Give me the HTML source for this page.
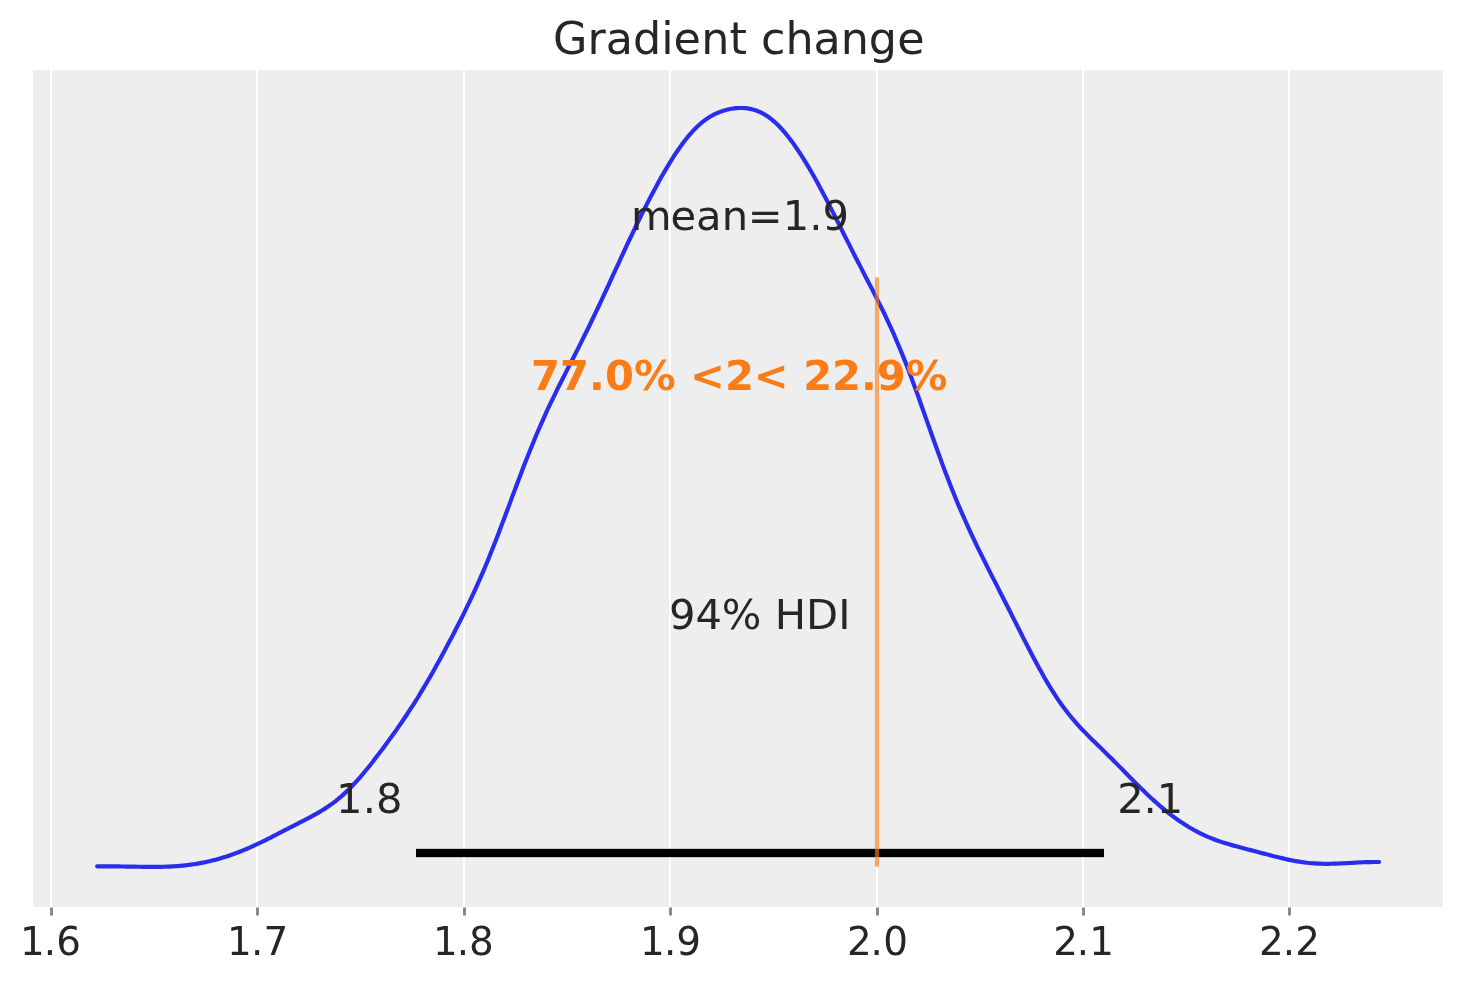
<!DOCTYPE html>
<html lang="en">
<head>
<meta charset="utf-8">
<title>Gradient change</title>
<style>
html,body{margin:0;padding:0;background:#ffffff;}
body{width:1463px;height:983px;overflow:hidden;}
svg{display:block;}
text{font-family:'DejaVu Sans','Liberation Sans',sans-serif;fill:#262626;white-space:pre;}
</style>
</head>
<body>
<svg width="1463" height="983" viewBox="0 0 1463 983">
<rect x="0" y="0" width="1463" height="983" fill="#ffffff"/>
<rect x="33" y="70" width="1410" height="837" fill="#eeeeee"/>
<g>
<rect x="50" y="70" width="2" height="837" fill="#ffffff"/>
<rect x="256" y="70" width="2" height="837" fill="#ffffff"/>
<rect x="463" y="70" width="2" height="837" fill="#ffffff"/>
<rect x="669" y="70" width="2" height="837" fill="#ffffff"/>
<rect x="876" y="70" width="2" height="837" fill="#ffffff"/>
<rect x="1082" y="70" width="2" height="837" fill="#ffffff"/>
<rect x="1288" y="70" width="2" height="837" fill="#ffffff"/>
</g>
<g>
<rect x="50.11" y="907.5" width="2.78" height="8" fill="#808080"/>
<rect x="256.11" y="907.5" width="2.78" height="8" fill="#808080"/>
<rect x="463.11" y="907.5" width="2.78" height="8" fill="#808080"/>
<rect x="669.11" y="907.5" width="2.78" height="8" fill="#808080"/>
<rect x="876.11" y="907.5" width="2.78" height="8" fill="#808080"/>
<rect x="1082.11" y="907.5" width="2.78" height="8" fill="#808080"/>
<rect x="1288.11" y="907.5" width="2.78" height="8" fill="#808080"/>
</g>
<path d="M97.1,866.30 L99.8,866.31 L102.5,866.32 L105.1,866.33 L107.8,866.35 L110.5,866.36 L113.2,866.38 L115.8,866.41 L118.5,866.44 L121.2,866.47 L123.9,866.51 L126.5,866.56 L129.2,866.60 L131.9,866.65 L134.6,866.69 L137.2,866.74 L139.9,866.78 L142.6,866.82 L145.3,866.85 L148.0,866.88 L150.6,866.89 L153.3,866.89 L156.0,866.88 L158.7,866.86 L161.3,866.81 L164.0,866.75 L166.7,866.66 L169.4,866.55 L172.0,866.42 L174.7,866.26 L177.4,866.07 L180.1,865.85 L182.7,865.61 L185.4,865.33 L188.1,865.01 L190.8,864.66 L193.5,864.28 L196.1,863.86 L198.8,863.41 L201.5,862.91 L204.2,862.39 L206.8,861.82 L209.5,861.21 L212.2,860.57 L214.9,859.89 L217.5,859.17 L220.2,858.42 L222.9,857.62 L225.6,856.79 L228.2,855.92 L230.9,855.01 L233.6,854.06 L236.3,853.08 L238.9,852.05 L241.6,850.99 L244.3,849.90 L247.0,848.77 L249.7,847.61 L252.3,846.41 L255.0,845.19 L257.7,843.93 L260.4,842.65 L263.0,841.35 L265.7,840.02 L268.4,838.68 L271.1,837.33 L273.7,835.96 L276.4,834.58 L279.1,833.20 L281.8,831.82 L284.4,830.44 L287.1,829.06 L289.8,827.69 L292.5,826.31 L295.2,824.94 L297.8,823.58 L300.5,822.21 L303.2,820.83 L305.9,819.45 L308.5,818.05 L311.2,816.62 L313.9,815.17 L316.6,813.67 L319.2,812.13 L321.9,810.53 L324.6,808.86 L327.3,807.11 L329.9,805.28 L332.6,803.36 L335.3,801.33 L338.0,799.20 L340.7,796.95 L343.3,794.60 L346.0,792.12 L348.7,789.54 L351.4,786.83 L354.0,784.02 L356.7,781.11 L359.4,778.09 L362.1,774.99 L364.7,771.80 L367.4,768.53 L370.1,765.19 L372.8,761.79 L375.4,758.34 L378.1,754.84 L380.8,751.29 L383.5,747.70 L386.2,744.08 L388.8,740.41 L391.5,736.71 L394.2,732.96 L396.9,729.18 L399.5,725.34 L402.2,721.45 L404.9,717.50 L407.6,713.49 L410.2,709.42 L412.9,705.27 L415.6,701.05 L418.3,696.75 L420.9,692.37 L423.6,687.92 L426.3,683.40 L429.0,678.80 L431.7,674.13 L434.3,669.39 L437.0,664.59 L439.7,659.74 L442.4,654.82 L445.0,649.86 L447.7,644.85 L450.4,639.78 L453.1,634.66 L455.7,629.49 L458.4,624.25 L461.1,618.95 L463.8,613.58 L466.4,608.12 L469.1,602.56 L471.8,596.91 L474.5,591.14 L477.2,585.24 L479.8,579.22 L482.5,573.07 L485.2,566.77 L487.9,560.34 L490.5,553.77 L493.2,547.08 L495.9,540.26 L498.6,533.33 L501.2,526.30 L503.9,519.20 L506.6,512.05 L509.3,504.86 L511.9,497.65 L514.6,490.46 L517.3,483.31 L520.0,476.20 L522.6,469.18 L525.3,462.25 L528.0,455.43 L530.7,448.73 L533.4,442.17 L536.0,435.75 L538.7,429.47 L541.4,423.33 L544.1,417.33 L546.7,411.47 L549.4,405.73 L552.1,400.10 L554.8,394.58 L557.4,389.14 L560.1,383.76 L562.8,378.45 L565.5,373.17 L568.1,367.92 L570.8,362.68 L573.5,357.43 L576.2,352.16 L578.9,346.87 L581.5,341.54 L584.2,336.17 L586.9,330.75 L589.6,325.27 L592.2,319.74 L594.9,314.16 L597.6,308.52 L600.3,302.84 L602.9,297.11 L605.6,291.34 L608.3,285.55 L611.0,279.73 L613.6,273.91 L616.3,268.08 L619.0,262.26 L621.7,256.46 L624.4,250.68 L627.0,244.94 L629.7,239.25 L632.4,233.60 L635.1,228.02 L637.7,222.50 L640.4,217.04 L643.1,211.66 L645.8,206.36 L648.4,201.13 L651.1,195.99 L653.8,190.93 L656.5,185.96 L659.1,181.09 L661.8,176.32 L664.5,171.66 L667.2,167.10 L669.9,162.68 L672.5,158.38 L675.2,154.22 L677.9,150.22 L680.6,146.38 L683.2,142.71 L685.9,139.22 L688.6,135.92 L691.3,132.82 L693.9,129.92 L696.6,127.22 L699.3,124.73 L702.0,122.44 L704.6,120.36 L707.3,118.47 L710.0,116.76 L712.7,115.23 L715.4,113.88 L718.0,112.68 L720.7,111.64 L723.4,110.73 L726.1,109.96 L728.7,109.32 L731.4,108.81 L734.1,108.41 L736.8,108.15 L739.4,108.01 L742.1,108.01 L744.8,108.14 L747.5,108.43 L750.1,108.87 L752.8,109.49 L755.5,110.29 L758.2,111.28 L760.8,112.46 L763.5,113.86 L766.2,115.46 L768.9,117.28 L771.6,119.32 L774.2,121.58 L776.9,124.05 L779.6,126.72 L782.3,129.61 L784.9,132.69 L787.6,135.96 L790.3,139.41 L793.0,143.03 L795.6,146.81 L798.3,150.75 L801.0,154.83 L803.7,159.06 L806.3,163.41 L809.0,167.90 L811.7,172.50 L814.4,177.21 L817.1,182.02 L819.7,186.94 L822.4,191.94 L825.1,197.03 L827.8,202.18 L830.4,207.40 L833.1,212.67 L835.8,217.97 L838.5,223.30 L841.1,228.64 L843.8,233.98 L846.5,239.32 L849.2,244.64 L851.8,249.93 L854.5,255.20 L857.2,260.44 L859.9,265.65 L862.6,270.84 L865.2,276.01 L867.9,281.18 L870.6,286.35 L873.3,291.55 L875.9,296.79 L878.6,302.09 L881.3,307.48 L884.0,312.96 L886.6,318.56 L889.3,324.29 L892.0,330.18 L894.7,336.22 L897.3,342.44 L900.0,348.82 L902.7,355.39 L905.4,362.12 L908.1,369.02 L910.7,376.08 L913.4,383.27 L916.1,390.59 L918.8,398.00 L921.4,405.50 L924.1,413.05 L926.8,420.63 L929.5,428.21 L932.1,435.78 L934.8,443.30 L937.5,450.75 L940.2,458.12 L942.8,465.38 L945.5,472.52 L948.2,479.53 L950.9,486.40 L953.6,493.12 L956.2,499.68 L958.9,506.10 L961.6,512.37 L964.3,518.49 L966.9,524.48 L969.6,530.34 L972.3,536.09 L975.0,541.73 L977.6,547.28 L980.3,552.75 L983.0,558.15 L985.7,563.51 L988.3,568.82 L991.0,574.11 L993.7,579.39 L996.4,584.65 L999.0,589.91 L1001.7,595.18 L1004.4,600.46 L1007.1,605.75 L1009.8,611.05 L1012.4,616.36 L1015.1,621.67 L1017.8,626.98 L1020.5,632.28 L1023.1,637.56 L1025.8,642.82 L1028.5,648.03 L1031.2,653.19 L1033.8,658.29 L1036.5,663.31 L1039.2,668.24 L1041.9,673.07 L1044.5,677.78 L1047.2,682.37 L1049.9,686.83 L1052.6,691.15 L1055.3,695.32 L1057.9,699.35 L1060.6,703.22 L1063.3,706.94 L1066.0,710.52 L1068.6,713.96 L1071.3,717.27 L1074.0,720.45 L1076.7,723.51 L1079.3,726.47 L1082.0,729.34 L1084.7,732.14 L1087.4,734.87 L1090.0,737.55 L1092.7,740.20 L1095.4,742.82 L1098.1,745.43 L1100.8,748.03 L1103.4,750.64 L1106.1,753.25 L1108.8,755.89 L1111.5,758.54 L1114.1,761.21 L1116.8,763.89 L1119.5,766.60 L1122.2,769.31 L1124.8,772.04 L1127.5,774.76 L1130.2,777.49 L1132.9,780.21 L1135.5,782.91 L1138.2,785.59 L1140.9,788.24 L1143.6,790.86 L1146.3,793.44 L1148.9,795.98 L1151.6,798.47 L1154.3,800.91 L1157.0,803.29 L1159.6,805.62 L1162.3,807.89 L1165.0,810.11 L1167.7,812.26 L1170.3,814.35 L1173.0,816.38 L1175.7,818.35 L1178.4,820.25 L1181.0,822.08 L1183.7,823.86 L1186.4,825.56 L1189.1,827.20 L1191.8,828.77 L1194.4,830.28 L1197.1,831.71 L1199.8,833.08 L1202.5,834.39 L1205.1,835.63 L1207.8,836.81 L1210.5,837.93 L1213.2,838.99 L1215.8,839.99 L1218.5,840.95 L1221.2,841.86 L1223.9,842.72 L1226.5,843.55 L1229.2,844.35 L1231.9,845.12 L1234.6,845.87 L1237.3,846.60 L1239.9,847.31 L1242.6,848.02 L1245.3,848.72 L1248.0,849.42 L1250.6,850.11 L1253.3,850.81 L1256.0,851.51 L1258.7,852.21 L1261.3,852.92 L1264.0,853.62 L1266.7,854.33 L1269.4,855.03 L1272.0,855.72 L1274.7,856.41 L1277.4,857.08 L1280.1,857.74 L1282.7,858.38 L1285.4,859.00 L1288.1,859.59 L1290.8,860.15 L1293.5,860.68 L1296.1,861.17 L1298.8,861.62 L1301.5,862.03 L1304.2,862.40 L1306.8,862.73 L1309.5,863.01 L1312.2,863.24 L1314.9,863.44 L1317.5,863.59 L1320.2,863.70 L1322.9,863.77 L1325.6,863.80 L1328.2,863.80 L1330.9,863.76 L1333.6,863.70 L1336.3,863.62 L1339.0,863.51 L1341.6,863.39 L1344.3,863.25 L1347.0,863.11 L1349.7,862.96 L1352.3,862.81 L1355.0,862.67 L1357.7,862.53 L1360.4,862.40 L1363.0,862.29 L1365.7,862.19 L1368.4,862.12 L1371.1,862.06 L1373.7,862.02 L1376.4,862.00 L1379.1,862.00" fill="none" stroke="#2a2eec" stroke-width="4.17" stroke-linecap="round" stroke-linejoin="round"/>
<rect x="416" y="848.83" width="688" height="8.34" fill="#000000"/>
<line x1="877" y1="279.1" x2="877" y2="865.1" stroke="#fa7c17" stroke-opacity="0.65" stroke-width="4.17" stroke-linecap="round"/>
<g>
<text x="553.06 587.51 605.75 633.06 661.30 673.62 701.16 729.38 746.81 760.95 785.47 813.45 840.67 868.82 897.13" y="53.90" font-size="44.44">Gradient change</text>
<text x="631.07 670.52 696.05 721.64 747.82 782.70 809.33 822.55" y="230.20" font-size="41.67">mean=1.9</text>
<text x="531.04 560.03 588.96 604.96 633.97 675.64 690.07 725.09 753.72 788.69 803.26 832.00 861.11 876.81 905.86" y="389.80" font-size="41.67" font-weight="bold" style="fill:#fa7c17">77.0% &lt;2&lt; 22.9%</text>
<text x="668.98 695.46 721.76 761.38 774.65 806.11 838.17" y="629.40" font-size="41.67">94% HDI</text>
<text x="335.90 362.64 375.90" y="813.00" font-size="41.67">1.8</text>
<text x="1117.26 1143.62 1156.70" y="813.00" font-size="41.67">2.1</text>
<text x="19.92 43.77 56.34" y="954.90" font-size="38.89">1.6</text>
<text x="227.06 250.92 263.39" y="954.90" font-size="38.89">1.7</text>
<text x="432.96 456.82 469.12" y="954.90" font-size="38.89">1.8</text>
<text x="640.12 663.97 676.23" y="954.90" font-size="38.89">1.9</text>
<text x="847.05 870.62 883.19" y="954.90" font-size="38.89">2.0</text>
<text x="1053.20 1076.76 1089.23" y="954.90" font-size="38.89">2.1</text>
<text x="1259.10 1282.66 1295.21" y="954.90" font-size="38.89">2.2</text>
</g>
</svg>
</body>
</html>
